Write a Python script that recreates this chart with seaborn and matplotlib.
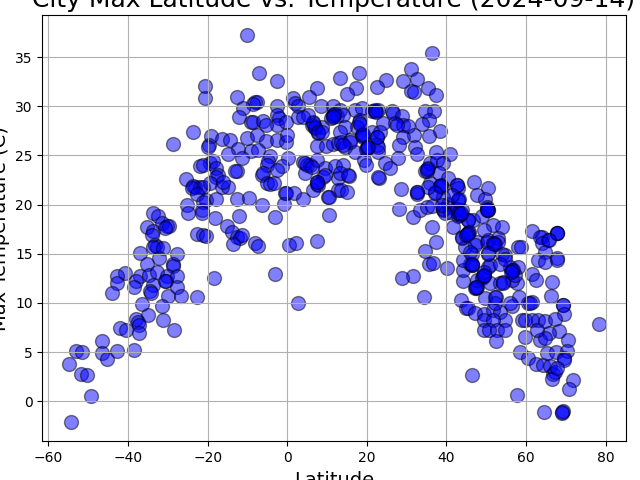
import matplotlib
matplotlib.use("Agg")
import matplotlib.pyplot as plt
import seaborn as sns

# latitude and max temp, same order in both lists
south_lats = [
    -10.05, -7.0, -2.5, 7.5, -20.6, -20.6, -12.6, -8.1, -7.7, -8.5, -11.2, -12.1,
    1.5, 1.9, 2.8, 5.5, 8.5, 11.6, -2.7, -2.7, -2.0, -2.5, -0.2, -9.1, -8.7,
    -6.2, -5.4, 2.8, 6.1, 7.0, 7.8, 8.6, 6.5, 11.6, 11.1, 12.4,
    -23.6, -28.6, -19.2, -19.6, -19.8, -16.5, -14.4, -10.2, -7.5, -5.4, -2.5, -0.3, 0.0,
    7.5, 9.7, 11.6, 12.8, -12.3, -15.0, -9.1, -7.3, -11.5,
    -19.4, -18.6, -21.9, -21.1, -17.8, -17.4, -17.8, -12.7, -13.1,
    -4.4, -4.8, -5.2, 0.3, -1.4, -2.5, -6.4, -6.0, -5.2, -4.4, -3.4,
    -0.6, -0.2, 1.7, -0.8, 4.0, 3.9, 4.9, 5.7, 4.4, 7.4, 9.5, 12.0,
    9.0, 7.4, 7.8, 6.5, 7.4, 10.3, 10.5, 12.8, 12.8,
    -25.5, -23.2, -23.6, -21.9, -21.1, -19.4, -24.0, -22.8, -16.5, -14.8, -16.1,
    -20.3, -17.8, -21.1, -12.6, -9.5, -6.3, -25.1, -24.9, -21.4, -21.4, -12.1, -18.1, -3.0, 10.5,
    -33.8, -32.4, -31.6, -30.3, -29.6, -35.2, -33.8, -34.1, -30.7,
    -22.8, -21.1, -20.5, -15.2, -14.0, -12.7, -11.9, -11.5, -13.6, -8.1, -7.3,
    0.5, 2.2, 7.4, -33.2, -32.8, -33.7, -31.3, -37.0, -27.8, -32.2, -35.3, -28.6, -28.6,
    -18.3, -3.2, -40.8, -42.7, -42.9, -44.0, -37.0, -37.9, -38.4,
    -34.7, -32.8, -33.8, -34.5, -34.3, -30.3, -30.5, -30.7, -27.6, -27.8, -29.9, -26.6,
    -22.8, 2.8, -36.6, -31.6, -34.9, -37.9, -37.6, -37.2, -37.2, -31.3, -28.4, -42.0, -40.6,
    -46.5, -53.1, -51.5, -46.5, -45.4, -42.7, -38.4, -54.8, -51.8, -50.3, -49.3, -54.4,
]
south_temps = [
    37.3, 33.4, 32.6, 31.9, 32.1, 30.8, 30.9, 30.4, 30.4, 30.2, 29.8, 28.9,
    30.8, 30.3, 30.0, 30.9, 30.0, 30.0, 30.0, 29.1, 28.8, 28.1, 28.4, 28.4, 28.4,
    28.5, 28.1, 28.9, 28.1, 27.8, 27.3, 27.9, 28.4, 29.1, 28.8, 29.0,
    27.4, 26.2, 27.0, 26.1, 25.9, 26.7, 26.6, 26.8, 27.1, 26.5, 26.6, 26.4, 27.1,
    26.0, 26.0, 26.2, 26.3, 25.7, 25.2, 25.5, 25.6, 24.7,
    24.2, 24.4, 23.9, 24.0, 23.7, 23.0, 22.8, 23.4, 23.4,
    24.9, 24.4, 24.0, 24.7, 23.9, 23.5, 23.0, 23.2, 22.2, 22.1, 22.2,
    21.2, 21.2, 21.2, 20.1, 20.6, 24.3, 24.0, 24.0, 23.2, 24.5, 23.7, 23.9,
    22.8, 22.3, 22.0, 21.5, 22.1, 20.8, 20.8, 22.7, 21.5,
    22.6, 21.8, 21.9, 21.8, 21.8, 22.2, 21.7, 21.1, 21.8, 21.8, 22.3,
    20.5, 20.6, 20.3, 20.6, 20.7, 20.0, 20.0, 19.1, 19.5, 19.1, 18.8, 18.6, 18.7, 18.9,
    19.1, 18.8, 18.1, 17.8, 17.8, 17.7, 17.3, 16.9, 17.6,
    17.0, 16.9, 16.8, 17.8, 17.2, 16.7, 16.6, 16.9, 16.0, 16.1, 15.8,
    15.9, 16.1, 16.3, 15.9, 15.7, 15.7, 15.6, 15.1, 15.0, 14.6, 14.0, 14.0, 13.8,
    12.5, 12.9, 13.0, 12.7, 12.0, 11.0, 12.7, 12.2, 11.6,
    12.8, 13.1, 11.8, 11.2, 11.0, 12.7, 12.2, 12.2, 12.7, 11.6, 10.7, 10.7,
    10.6, 10.0, 9.9, 9.7, 8.8, 8.4, 8.1, 7.8, 6.9, 8.3, 7.3, 7.5, 7.3,
    6.1, 5.1, 5.0, 4.9, 4.3, 5.1, 5.2, 3.8, 2.8, 2.7, 0.5, -2.1,
]

north_lats = [
    36.3, 31.2, 32.7, 29.1, 24.7, 22.6, 18.1, 17.2, 15.1, 13.2, 31.2, 31.8, 35.4, 37.3,
    34.6, 36.8, 35.7, 33.8, 38.4, 35.7, 37.3, 40.9,
    17.0, 18.7, 21.2, 22.0, 22.9, 26.2, 26.5, 28.9, 27.1, 29.1, 30.4, 24.1,
    13.2, 14.1, 18.3, 17.4, 14.5, 13.2, 18.7, 19.1, 21.2, 22.5, 23.3,
    15.8, 13.6, 17.0, 14.5, 19.9, 20.3, 22.5, 22.9,
    29.1, 28.1, 31.8, 32.1, 32.5, 27.9, 19.3, 19.7, 24.5, 25.8,
    14.1, 15.5, 13.2, 13.6, 15.1, 23.0, 22.9, 28.6, 32.5, 32.5, 28.1, 31.7, 33.3, 35.2,
    36.3, 37.3, 47.0, 50.5, 47.7, 49.7, 50.1, 50.5,
    34.6, 35.4, 35.8, 37.5, 39.2, 38.0, 40.5, 38.4, 38.8, 35.8, 37.1, 39.2, 42.6, 43.0,
    43.0, 40.5, 42.1, 43.4, 45.5, 43.0, 39.2, 45.5, 46.7, 48.8, 51.8, 53.9, 49.3,
    41.7, 43.8, 47.6, 50.5, 53.0,
    61.4, 63.9, 65.6, 67.8, 67.8, 67.8, 63.5, 63.9, 65.7, 64.7, 63.1, 64.7, 67.7, 67.7,
    61.6, 62.6, 66.6, 66.2, 69.3, 69.3, 69.6, 78.4, 58.2, 60.5, 61.4, 56.4, 55.9,
    58.9, 59.7, 61.4, 63.1, 64.7, 67.3, 68.3, 65.7, 70.6, 63.5, 64.7, 62.8, 59.7,
    58.5, 60.5, 62.5, 64.3, 66.0, 65.2, 67.6, 70.2, 69.5, 69.5,
    66.8, 67.2, 66.6, 67.7, 71.9, 70.9, 57.8, 46.5, 64.6, 69.3, 68.9, 69.1,
    43.6, 45.0, 45.5, 47.2, 49.3, 51.8, 53.4, 54.7, 49.5, 51.8, 49.3, 50.6, 52.6, 54.7,
    52.4, 49.7, 52.4, 52.2, 44.2, 44.2, 46.3, 45.9, 47.4, 47.6, 47.6, 49.3, 48.8,
    51.0, 54.3, 53.4, 57.6, 56.4, 57.2, 56.4, 55.9, 54.7, 53.9, 58.0, 50.5, 50.9, 49.3,
    58.0, 58.6, 50.5, 52.2, 53.0, 50.1, 44.7, 46.3, 44.2, 47.2, 43.8,
    34.7, 35.7, 36.7, 40.2, 34.4, 31.7, 28.7, 36.3,
    39.2, 40.9, 42.6, 45.5, 43.0, 43.8, 50.5, 50.3,
]
north_temps = [
    35.4, 33.8, 32.8, 32.6, 32.7, 32.0, 33.4, 31.9, 31.3, 32.85, 31.6, 31.5, 31.9, 31.2,
    29.5, 29.5, 28.6, 28.2, 27.5, 27.0, 25.4, 25.1,
    29.6, 29.8, 29.5, 29.5, 29.6, 29.5, 29.3, 29.0, 28.3, 28.1, 28.0, 28.3,
    29.6, 29.1, 28.6, 27.9, 27.9, 27.4, 27.1, 26.9, 27.4, 26.9, 27.4,
    26.6, 26.4, 25.4, 25.9, 25.7, 25.9, 26.1, 25.4,
    26.9, 26.1, 27.1, 25.9, 25.2, 24.7, 24.5, 24.0, 24.2, 23.7,
    24.0, 22.9, 23.2, 21.5, 21.3, 22.7, 22.8, 21.6, 21.3, 21.1, 19.6, 18.7, 19.5, 19.8,
    17.7, 16.2, 22.3, 21.7, 21.0, 20.6, 19.8, 19.5,
    23.4, 23.7, 24.2, 24.5, 24.2, 23.2, 22.7, 21.9, 21.8, 22.2, 21.3, 20.8, 22.0, 21.7,
    20.5, 20.1, 19.6, 18.9, 18.4, 18.8, 19.5, 17.1, 18.4, 18.8, 17.9, 17.7, 17.4,
    17.7, 16.7, 16.2, 16.4, 16.6,
    17.3, 16.7, 16.4, 17.1, 17.1, 17.1, 16.7, 16.1, 16.4, 15.2, 14.4, 14.2, 14.6, 14.4,
    12.9, 12.3, 12.1, 10.7, 9.8, 9.8, 8.9, 7.9, 10.6, 10.0, 10.1, 9.7, 10.0,
    8.3, 8.3, 8.3, 8.3, 8.2, 8.4, 7.1, 6.9, 6.2, 6.2, 6.4, 7.3, 6.5,
    5.0, 4.4, 3.8, 3.7, 3.6, 4.9, 5.0, 5.1, 4.4, 4.2,
    2.8, 3.0, 2.3, 3.4, 2.2, 1.3, 0.6, 2.7, -1.1, -1.0, -1.2, -1.1,
    10.3, 9.5, 9.5, 9.0, 8.9, 9.3, 9.1, 8.3, 8.3, 8.3, 7.2, 7.3, 7.3, 7.2,
    6.1, 10.5, 10.6, 10.0, 12.2, 13.4, 13.9, 14.0, 11.5, 11.6, 12.3, 12.7, 12.5,
    12.0, 12.1, 12.0, 12.0, 12.3, 12.8, 13.4, 13.7, 14.9, 15.0, 13.7, 13.7, 13.9, 13.2,
    15.7, 15.7, 15.0, 16.0, 16.2, 16.2, 15.7, 15.0, 14.4, 15.9, 16.6,
    15.3, 14.0, 14.1, 13.6, 10.6, 12.7, 12.5, 19.9,
    19.6, 19.3, 19.6, 18.4, 19.1, 19.5, 19.5, 19.6,
]

# second pass over the crowded spots
dense_lats = [
    11.4, 11.8, 11.6, 7.0, 6.5, 7.7, 8.7, 5.2, 4.0, 18.7, 18.9, 15.8, 14.0, 20.0, 20.2,
    22.8, 22.5, 22.0, 22.4, 27.5, 18.0, 18.3, 4.4, 6.1, 9.5, 7.4, 15.3,
    35.0, 35.2, 38.4, 38.6, 37.1, 42.6, 43.0, 43.2, 43.4, 43.6, 41.3, 35.4, 39.6, 50.1,
    45.4, 45.6, 38.8, 32.6,
    45.0, 45.2, 46.0, 46.3, 46.5, 49.2, 49.4, 47.2, 47.4, 56.4, 56.6, 56.2, 54.2, 53.4,
    51.7, 51.9, 50.4, 54.7, 61.0, 52.2,
]
dense_temps = [
    29.0, 29.2, 28.9, 27.9, 28.3, 27.4, 27.4, 29.1, 28.9, 27.1, 27.2, 26.4, 26.1, 25.8, 25.9,
    25.9, 26.9, 29.6, 29.4, 28.1, 28.4, 28.2, 24.2, 23.8, 23.0, 22.3, 23.0,
    23.4, 23.6, 21.9, 22.0, 21.2, 22.0, 20.5, 20.6, 19.0, 19.1, 21.0, 21.8, 19.1, 19.5,
    17.1, 17.2, 20.0, 21.3,
    16.9, 17.0, 15.2, 13.9, 14.0, 12.7, 12.8, 11.5, 11.6, 13.3, 13.4, 13.2, 12.0, 14.0,
    16.1, 16.0, 15.1, 14.5, 10.0, 10.6,
]

lats = south_lats + north_lats + dense_lats
temps = south_temps + north_temps + dense_temps

title = "City Max Latitude vs. Temperature (2024-09-14)"

fig, ax = plt.subplots(figsize=(6.4, 4.8), dpi=100)
fig.subplots_adjust(left=0.0664, right=0.9775, bottom=0.0806, top=0.968)

sns.scatterplot(x=lats, y=temps, s=100, color="blue", edgecolor="black",
                linewidth=1, alpha=0.5, ax=ax)

ax.set_xlim(-61.5, 85)
ax.set_ylim(-4.07, 39.25)
ax.grid(True)
ax.set_title(title, fontsize=18)
ax.set_xlabel("Latitude", fontsize=14)
ax.set_ylabel("Max Temperature (C)", fontsize=14)

fig.savefig("out.png", dpi=100)
